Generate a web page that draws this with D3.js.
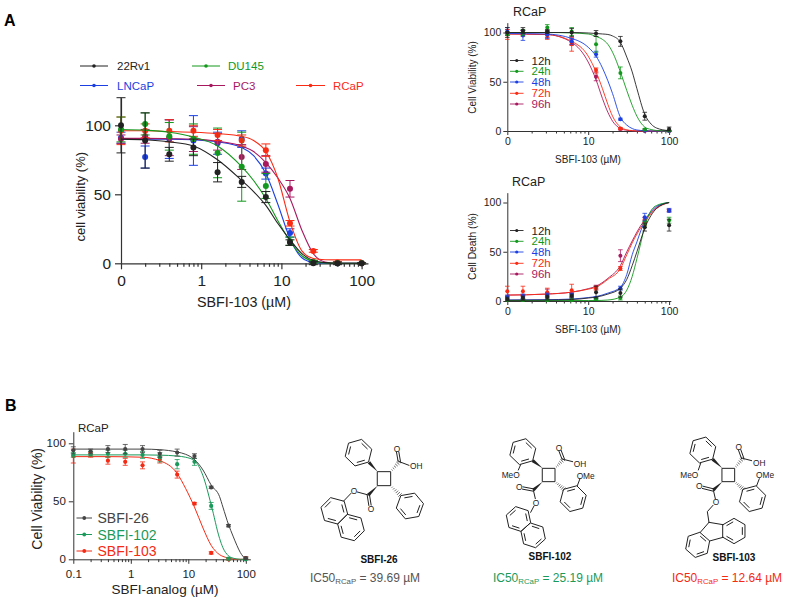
<!DOCTYPE html>
<html><head><meta charset="utf-8">
<script src="https://cdn.jsdelivr.net/npm/d3@7"></script>
<style>
html,body{margin:0;padding:0;background:#fff}
svg{display:block}
text{font-family:"Liberation Sans",Arial,sans-serif}
</style></head><body>
<svg id="c" width="788" height="601"></svg>
<script>
// ---------- Panel A, main chart
const mainDoses=[0.1,0.2,0.4,0.8,1.6,3.2,6.4,12.8,25,50,100];
const mainGrid=[0.1,0.2,0.4,0.8,1.6,3.2,4.5,6.4,9,12.8,18,25,35,50,100];
const rv1Vals=[100,89,79,84,66,59,48,15,0,0,0];
const rv1Errs=[20,20,5,6,7,4,4,2,1,1,0.5];
const rv1Fit=[90,89.5,88,85,75,60,52,42,29,17,7,2,.5,0,0];
const du145Vals=[97,101,92,90,80,70,56,16,1,0,0];
const du145Errs=[9,8,10,11,18,25,9,3,1,0,0];
const du145Fit=[97,96.5,95,91.5,85,70,60,47,31,16,5.5,1.5,.3,0,0];
const lncapVals=[91,77,90,89,87,90,65,22,0.5,0,0];
const lncapErrs=[4,8,14,18,8,6,4,3,.5,0,0];
const lncapFit=[90,90,90,89.5,88,84,78,65,43,18,4,.6,0,0,0];
const pc3Vals=[90,92,91,90,88,77,72,54,1,0,0];
const pc3Errs=[3,5,13,9,6,9,6,6,1,0,0];
const pc3Fit=[90.5,90.5,90.3,90,88.5,85,81,73,62,47,24,7,1,0,0];
const rcapVals=[96,96,96,96,93,89,82,29,9,0.5,0];
const rcapErrs=[10,5,8,4,4,4,4.5,2,1,.5,0];
const rcapFit=[96,96,95.5,95,94,92,89,81,62,30,9,3.5,2.6,2.5,2.5];

// ---------- Panel A, time course
const timeLabels=["12h","24h","48h","72h","96h"];
const timeDoses=[1,1.56,3.12,6.25,12.5,25,50,100];
const viaGrid=[1,3,6.25,10,12.5,15,17.5,20,25,30,35,40,50,60,70,100];
const via12Fit=[100,100,100,99.5,99,98.5,98,96.5,90,75,60,43,17,7,3,0.3];
const via24Fit=[100,100,99.5,98.5,96,93,88,80,60,41,26,15,4,1.5,.5,0];
const via48Fit=[99,98.5,94,85,76,64,51,38,14,6,2.5,1,.3,0,0,0];
const via72Fit=[98.5,98,91,76,60,43,27,15,4,1.2,.4,.1,0,0,0,0];
const via96Fit=[98.5,98,90,70,52,33,19,10,2.5,.7,.2,0,0,0,0,0];
const via12Vals=[100,102,101,100,99,91,15,2];
const via12Errs=[5,3,2,4,3,5,4,2];
const via24Vals=[99,100,105,101,88,59,1.5,.5];
const via24Errs=[2,3,3,4,8,6,1,.5];
const via48Vals=[101,97,98,91,78,12,.5,0];
const via48Errs=[4,5,4,3,3,1,.5,.3];
const via72Vals=[98,99,97,88,62,2.5,.5,0];
const via72Errs=[5,3,4,7,2,1,.5,.3];
const via96Vals=[100,100,98,90,55,2,0,0];
const via96Errs=[3,2,3,3,4,1,0,0];

const deathGrid=[1,3,6.25,10,12.5,17.5,25,30,35,40,45,50,60,70,100];
const death12Fit=[.8,1,1.5,3,4,7,13,22,36,50,63,74,87,94,100];
const death24Fit=[.5,.5,.5,.5,.5,1,4,11,25,43,60,76,92,97,100];
const death48Fit=[1,1.3,2,3.5,4.5,8,14,27,47,60,72,81,91,96,100];
const death72Fit=[6,7,9,12,14,22,33,47,59,68,75,80,89,94,100];
const death96Fit=[6,7,9,12.5,15,23,36,50,61,70,77,82,90,95,100];
const death12Vals=[2,3,4,5,9,8,75,77];
const death12Errs=[2,2,2,2,6,4,4,6];
const death24Vals=[1,1,1,1,2,3,78,82];
const death24Errs=[1,1,1,1,1,2,3,3];
const death48Vals=[4,5,6,6,3,13,85,92];
const death48Errs=[2,2,2,2,1,2,4,2];
const death72Vals=[10,10,9,11,13,33,80,92];
const death72Errs=[5,5,4,6,2,2,3,1];
const death96Vals=[3,4,8,6,14,46,82,92];
const death96Errs=[2,2,4,2,2,6,3,1];

// ---------- Panel B
const analogDoses=[0.1,0.2,0.4,0.8,1.6,3.2,6.4,12.8,25,50,100];
const analogGrid=[0.1,0.4,1.6,3.2,6.4,9,12.8,18,25,35,40,50,60,70,80,100];
const sbfi26Vals=[94,93,95,95,95,91,92,89,62,29,1];
const sbfi26Errs=[3,2,3,4,3,3,3,2,1,1,1];
const sbfi26Fit=[95,95,95,94.5,92.5,90.5,86,77,64,54,45,30,20,12,6,0];
const sbfi102Vals=[90,91,91,91,90,88,82,84,46,.5,0];
const sbfi102Errs=[2,2,3,3,3,4,4,3,3,1,.5];
const sbfi102Fit=[90,90,90,89.8,89,88,85,72,47,18,10,3,1,.3,0,0];
const sbfi103Vals=[89,90,85,84,81,86,73,48,5.5,0,1];
const sbfi103Errs=[6,2,3,3,3,3,3,1,1,.5,1];
const sbfi103Fit=[88.5,88.5,88,85,74,61,45,27,12,4,2.5,1,.3,0,0,0];

const black="#222222",green="#12981c",blue="#1b3fe2",purple="#a8185f",red="#fa2b14";
const svg=d3.select("#c");

function panel(o){
  const g=svg.append("g");
  const x=d3.scaleLog().domain([o.xMin,o.xMax]).range([o.x0,o.x0+o.decade*Math.log10(o.xMax/o.xMin)]);
  const y=d3.scaleLinear().domain([0,o.yMax]).range([o.y0,o.y0-o.yUnit*o.yMax]);
  const line=d3.line().curve(d3.curveMonotoneX);
  // minor x ticks
  const minor=[];
  for(let d=o.xMin;d<o.xMax;d*=10) for(let k=2;k<10;k++) if(d*k<=100) minor.push(d*k);
  const ax=g.append("g").attr("transform",`translate(0,${o.y0})`);
  ax.call(d3.axisBottom(x).tickValues(minor).tickSize(o.tickMinor).tickFormat("").tickSizeOuter(0));
  ax.selectAll("line,path").attr("stroke",o.axisColor).attr("stroke-width",o.axisW);
  const ax2=g.append("g").attr("transform",`translate(0,${o.y0})`);
  ax2.call(d3.axisBottom(x).tickValues(o.xTicks.map(t=>t[0])).tickSize(o.tickMajor).tickSizeOuter(0)
    .tickPadding(o.xPad).tickFormat((d,i)=>o.xTicks[i][1]));
  ax2.select("path").remove();
  ax2.selectAll("line").attr("stroke",o.axisColor).attr("stroke-width",o.axisW);
  ax2.selectAll("text").attr("font-size",o.tickFont).attr("fill",black).attr("font-family",'"Liberation Sans",Arial,sans-serif');
  const ay=g.append("g").attr("transform",`translate(${o.x0},0)`);
  ay.call(d3.axisLeft(y).tickValues([0,50,100]).tickSize(o.tickMajor).tickSizeOuter(0).tickPadding(o.yPad));
  ay.selectAll("line,path").attr("stroke",o.axisColor).attr("stroke-width",o.axisW);
  ay.selectAll("text").attr("font-size",o.tickFont).attr("fill",black).attr("font-family",'"Liberation Sans",Arial,sans-serif');
  // series
  o.series.forEach(s=>{
    const sg=g.append("g");
    sg.append("path").attr("fill","none").attr("stroke",s.color).attr("stroke-width",o.lineW)
      .attr("d",line(o.grid.map((d,i)=>[x(d),y(s.fit[i])])));
    o.doses.forEach((d,i)=>{
      const e=s.errs[i], v=s.vals[i];
      const px=x(d), lo=y(Math.max(v-e,-1)), hi=y(v+e);
      if(e>0){
        sg.append("line").attr("x1",px).attr("x2",px).attr("y1",lo).attr("y2",hi).attr("stroke",s.color).attr("stroke-width",o.errW);
        [lo,hi].forEach(yy=>sg.append("line").attr("x1",px-o.cap).attr("x2",px+o.cap).attr("y1",yy).attr("y2",yy).attr("stroke",s.color).attr("stroke-width",o.errW));
      }
      sg.append("circle").attr("cx",px).attr("cy",y(v)).attr("r",o.r).attr("fill",s.color);
    });
  });
  // labels
  g.append("text").attr("x",o.xLabel[0]).attr("y",o.xLabel[1]).attr("text-anchor","middle").attr("font-size",o.xLabel[3]).attr("fill",black).text(o.xLabel[2]);
  g.append("text").attr("transform",`translate(${o.yLabel[0]},${o.yLabel[1]}) rotate(-90)`).attr("text-anchor","middle").attr("font-size",o.yLabel[3]).attr("fill",black).text(o.yLabel[2]);
  if(o.title) g.append("text").attr("x",o.title[0]).attr("y",o.title[1]).attr("font-size",o.title[3]).attr("fill",black).text(o.title[2]);
  return g;
}
function legendItem(x1,x2,tx,yy,label,color,fs,r,w,textColor){
  const g=svg.append("g");
  g.append("line").attr("x1",x1).attr("x2",x2).attr("y1",yy).attr("y2",yy).attr("stroke",color).attr("stroke-width",w);
  g.append("circle").attr("cx",(x1+x2)/2).attr("cy",yy).attr("r",r).attr("fill",color);
  g.append("text").attr("x",tx).attr("y",yy).attr("dy","0.36em").attr("font-size",fs).attr("fill",textColor||color).text(label);
}

svg.append("text").attr("x",4).attr("y",26).attr("font-size",16).attr("font-weight","bold").attr("fill","#000").text("A");
svg.append("text").attr("x",5).attr("y",411).attr("font-size",16).attr("font-weight","bold").attr("fill","#000").text("B");

// main
panel({x0:121,decade:80.2,xMin:.1,xMax:120,y0:263.3,yUnit:1.38,yMax:120,
  xTicks:[[.1,"0"],[1,"1"],[10,"10"],[100,"100"]],tickFont:15.5,tickMajor:6,tickMinor:3.5,xPad:6,yPad:4,
  axisColor:"#333",axisW:1.2,lineW:1.1,errW:1,cap:4.5,r:3,
  doses:mainDoses,grid:mainGrid,
  series:[
    {color:blue,vals:lncapVals,errs:lncapErrs,fit:lncapFit},
    {color:purple,vals:pc3Vals,errs:pc3Errs,fit:pc3Fit},
    {color:red,vals:rcapVals,errs:rcapErrs,fit:rcapFit},
    {color:green,vals:du145Vals,errs:du145Errs,fit:du145Fit},
    {color:black,vals:rv1Vals,errs:rv1Errs,fit:rv1Fit}],
  xLabel:[244,306.5,"SBFI-103 (µM)",14.3],yLabel:[84.5,196.7,"cell viability (%)",13]});
legendItem(80,108,117,66,"22Rv1",black,11.5,1.8,1);
legendItem(192,220,228,66,"DU145",green,11.5,1.8,1);
legendItem(80,108,117,85.5,"LNCaP",blue,11.5,1.8,1);
legendItem(197,225,233,85.5,"PC3",purple,11.5,1.8,1);
legendItem(296,325,333,85.5,"RCaP",red,11.5,1.8,1);

const timeColors=[black,green,blue,red,purple];
const rightBase={x0:507.3,decade:80.9,xMin:1,xMax:105,yUnit:.985,yMax:110,
  xTicks:[[1,"0"],[10,"10"],[100,"100"]],tickFont:10.5,tickMajor:4,tickMinor:2.5,xPad:3,yPad:2,
  axisColor:"#333",axisW:1,lineW:.9,errW:.8,cap:2.3,r:2,doses:timeDoses};
const viaF=[via96Fit,via72Fit,via48Fit,via24Fit,via12Fit], viaV=[via96Vals,via72Vals,via48Vals,via24Vals,via12Vals], viaE=[via96Errs,via72Errs,via48Errs,via24Errs,via12Errs];
const dF=[death96Fit,death72Fit,death48Fit,death24Fit,death12Fit], dV=[death96Vals,death72Vals,death48Vals,death24Vals,death12Vals], dE=[death96Errs,death72Errs,death48Errs,death24Errs,death12Errs];
const revColors=timeColors.slice().reverse();
panel(Object.assign({},rightBase,{y0:131,grid:viaGrid,
  series:revColors.map((c,i)=>({color:c,vals:viaV[i],errs:viaE[i],fit:viaF[i]})),
  xLabel:[588,163,"SBFI-103 (µM)",10],yLabel:[476,77.5,"Cell Viability (%)",10],title:[513,16,"RCaP",12.5]}));
panel(Object.assign({},rightBase,{y0:301,grid:deathGrid,
  series:revColors.map((c,i)=>({color:c,vals:dV[i],errs:dE[i],fit:dF[i]})),
  xLabel:[588,333,"SBFI-103 (µM)",10],yLabel:[476,246.5,"Cell Death (%)",10.3],title:[512,186,"RCaP",12.5]}));
[60.5,71.3,82,93.3,104].forEach((yy,i)=>legendItem(510,523.5,531.5,yy,timeLabels[i],timeColors[i],11.5,1.6,.9,i==0?black:undefined));
[230.5,241.3,252,263.3,274].forEach((yy,i)=>legendItem(510,523.5,531.5,yy,timeLabels[i],timeColors[i],11.5,1.6,.9,i==0?black:undefined));

// panel B chart
const gB="#444444",grB="#1a9a5a",rB="#f52a14";
panel({x0:73.3,decade:57.5,xMin:.1,xMax:120,y0:559.3,yUnit:1.16,yMax:110,
  xTicks:[[.1,"0.1"],[1,"1"],[10,"10"],[100,"100"]],tickFont:11.5,tickMajor:4.5,tickMinor:2.8,xPad:6,yPad:3,
  axisColor:"#333",axisW:1,lineW:1,errW:.8,cap:2.5,r:2.1,
  doses:analogDoses,grid:analogGrid,
  series:[
    {color:rB,vals:sbfi103Vals,errs:sbfi103Errs,fit:sbfi103Fit},
    {color:grB,vals:sbfi102Vals,errs:sbfi102Errs,fit:sbfi102Fit},
    {color:gB,vals:sbfi26Vals,errs:sbfi26Errs,fit:sbfi26Fit}],
  xLabel:[165,594,"SBFI-analog (µM)",13.5],yLabel:[41.5,498.8,"Cell Viability (%)",14],title:[78,432,"RCaP",11.5]});
legendItem(76.5,92,97.5,518,"SBFI-26",gB,14,1.9,1);
legendItem(76.5,92,97.5,534.5,"SBFI-102",grB,14,1.9,1);
legendItem(76.5,92,97.5,551,"SBFI-103",rB,14,1.9,1);

// ---------- Structures (drawn in 3x crop units, scaled to 1/3)
function mol(ox,oy){
  const g=svg.append("g").attr("transform",`translate(${ox},${oy}) scale(${1/3})`)
    .attr("stroke","#222").attr("stroke-width",3).attr("fill","none").attr("stroke-linecap","round");
  const api={
    ring(cx,cy,r,rot,dbl=[0,2,4]){
      const v=d3.range(6).map(i=>{const a=(rot+60*i)*Math.PI/180;return [cx+r*Math.cos(a),cy+r*Math.sin(a)];});
      g.append("path").attr("d","M"+v.join("L")+"Z");
      dbl.forEach(i=>{
        const p=v[i],q=v[(i+1)%6],f=.76,t=.14;
        const P=[cx+(p[0]-cx)*f,cy+(p[1]-cy)*f],Q=[cx+(q[0]-cx)*f,cy+(q[1]-cy)*f];
        g.append("line").attr("x1",P[0]+(Q[0]-P[0])*t).attr("y1",P[1]+(Q[1]-P[1])*t)
         .attr("x2",Q[0]-(Q[0]-P[0])*t).attr("y2",Q[1]-(Q[1]-P[1])*t);
      });
      return api;
    },
    path(pts,close){g.append("path").attr("d","M"+pts.join("L")+(close?"Z":""));return api;},
    dbl(a,b){
      const dx=b[0]-a[0],dy=b[1]-a[1],l=Math.hypot(dx,dy),nx=-dy/l*3.5,ny=dx/l*3.5;
      api.path([[a[0]+nx,a[1]+ny],[b[0]+nx,b[1]+ny]]);api.path([[a[0]-nx,a[1]-ny],[b[0]-nx,b[1]-ny]]);return api;
    },
    wedge(a,b){
      const dx=b[0]-a[0],dy=b[1]-a[1],l=Math.hypot(dx,dy),nx=-dy/l*5,ny=dx/l*5;
      g.append("path").attr("fill","#222").attr("stroke","none").attr("d",`M${a}L${b[0]+nx},${b[1]+ny}L${b[0]-nx},${b[1]-ny}Z`);return api;
    },
    hash(a,b){
      const dx=b[0]-a[0],dy=b[1]-a[1],l=Math.hypot(dx,dy);
      d3.range(1,7).forEach(i=>{const t=i/6,w=t*6,cx=a[0]+dx*t,cy=a[1]+dy*t;
        g.append("line").attr("stroke-width",2).attr("x1",cx-dy/l*w).attr("y1",cy+dx/l*w).attr("x2",cx+dy/l*w).attr("y2",cy-dx/l*w);});
      return api;
    },
    text(x,y,s){
      g.append("text").attr("x",x).attr("y",y).attr("dy","0.36em").attr("text-anchor","middle").attr("stroke","none").attr("fill","#222").attr("font-size",25).text(s);return api;
    }
  };
  return api;
}
// SBFI-26
mol(300,420)
 .path([[233,155],[272,155],[272,197],[233,197]],true)
 .wedge([233,155],[207,127]).ring(175,98,41,44)
 .hash([272,155],[298,125]).dbl([298,125],[293,96]).text(291,86,"O").path([[298,125],[327,136]]).text(349,139,"OH")
 .hash([272,197],[300,225]).ring(330,258,41,-130)
 .wedge([233,197],[205,225]).dbl([205,225],[210,256]).text(213,266,"O").path([[205,225],[172,216]]).text(162,212,"O").path([[153,220],[131,243]])
 .ring(102.5,272.5,41,15,[1,3,5]).ring(152.5,322.5,41,15,[0,2,4]);
// SBFI-102
mol(470,420)
 .path([[218,145],[255,145],[255,185],[218,185]],true)
 .wedge([218,145],[188,122]).ring(158,95,40,44).path([[152,134],[145,150]]).text(122,166,"MeO")
 .hash([255,145],[280,118]).dbl([280,118],[270,92]).text(267,83,"O").path([[280,118],[308,125]]).text(330,131,"OH")
 .hash([255,185],[282,208]).ring(310,236,40,-135).path([[322,197],[330,176]]).text(347,167,"OMe")
 .wedge([218,185],[190,210]).dbl([190,210],[158,204]).text(148,202,"O").path([[190,210],[196,236]]).text(198,248,"O").path([[192,258],[182,277]])
 .ring(145,297,38,18,[1,3,5]).ring(189,346,38,18,[0,2,4]);
// SBFI-103
mol(630,420)
 .path([[277,145],[314,145],[314,185],[277,185]],true)
 .wedge([277,145],[248,118]).ring(218,90,40,44).path([[212,130],[205,150]]).text(178,166,"MeO")
 .hash([314,145],[338,115]).dbl([338,115],[329,90]).text(326,80,"O").path([[338,115],[365,122]]).text(388,128,"OH")
 .hash([314,185],[340,208]).ring(368,236,40,-135).path([[380,197],[388,176]]).text(405,165,"OMe")
 .wedge([277,185],[250,210]).dbl([250,210],[218,202]).text(208,199,"O").path([[250,210],[256,236]]).text(258,247,"O").path([[249,256],[232,275],[237,307]])
 .path([[237,307],[279,314]]).path([[237,307],[210,338]]).path([[279,352],[239,363]])
 .ring(312,333,38,-150).ring(203,375,38,-79);

const nameLabels=[[379,563,"SBFI-26"],[550,560,"SBFI-102"],[734,561,"SBFI-103"]];
nameLabels.forEach(n=>svg.append("text").attr("x",n[0]).attr("y",n[1]).attr("text-anchor","middle").attr("font-size",10).attr("font-weight","bold").attr("fill","#111").text(n[2]));

function ic(x,color,val){
  const t=svg.append("text").attr("x",x).attr("y",582).attr("text-anchor","middle").attr("font-size",12).attr("fill",color);
  t.append("tspan").text("IC50");
  t.append("tspan").attr("font-size",7.8).attr("dy",1.5).text("RCaP");
  t.append("tspan").attr("dy",-1.5).text(" = "+val+" µM");
}
const icLabels=["39.69","25.19","12.64"];
ic(365,"#555",icLabels[0]);ic(548,grB,icLabels[1]);ic(727,rB,icLabels[2]);
</script>
</body></html>
